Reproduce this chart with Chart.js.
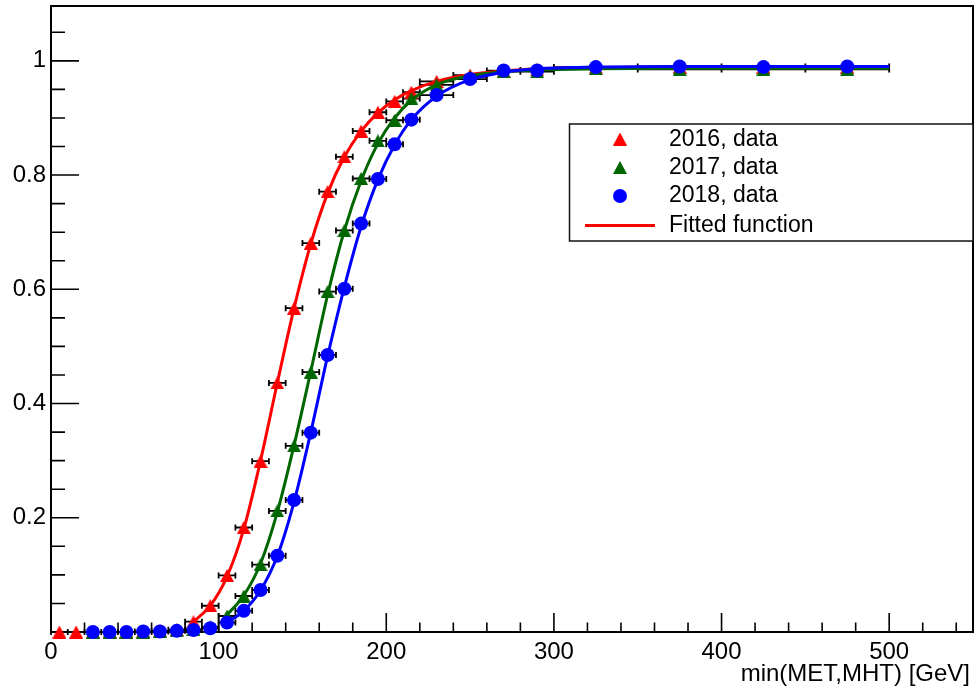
<!DOCTYPE html>
<html>
<head>
<meta charset="utf-8">
<script src="https://cdn.jsdelivr.net/npm/chart.js@4.4.1/dist/chart.umd.min.js"></script>
<style>
  html, body { margin: 0; padding: 0; background: #ffffff; }
  canvas { display: block; }
</style>
</head>
<body>
<canvas id="c" width="976" height="694"></canvas>
<script>
// Trigger efficiency vs min(MET,MHT), per data-taking year
const binCenters    = [5, 15, 25, 35, 45, 55, 65, 75, 85, 95, 105, 115, 125, 135, 145, 155, 165, 175, 185, 195, 205, 215, 230, 250, 270, 290, 325, 375, 425, 475];
const binHalfWidths = [5, 5, 5, 5, 5, 5, 5, 5, 5, 5, 5, 5, 5, 5, 5, 5, 5, 5, 5, 5, 5, 5, 10, 10, 10, 10, 25, 25, 25, 25];

const eff2016 = [0.000, 0.000, 0.000, 0.000, 0.000, 0.001, 0.002, 0.004, 0.018, 0.046, 0.099, 0.183, 0.299, 0.436, 0.567, 0.681, 0.771, 0.832, 0.877, 0.910, 0.929, 0.945, 0.964, 0.975, 0.981, 0.984, 0.988, 0.989, 0.989, 0.989];
const eff2017 = [null, null, 0.000, 0.000, 0.000, 0.000, 0.001, 0.002, 0.005, 0.009, 0.028, 0.063, 0.118, 0.212, 0.326, 0.455, 0.596, 0.703, 0.794, 0.860, 0.896, 0.934, 0.958, 0.972, 0.981, 0.981, 0.986, 0.985, 0.985, 0.985];
const eff2018 = [null, null, 0.000, 0.000, 0.000, 0.001, 0.001, 0.002, 0.0035, 0.0065, 0.0165, 0.037, 0.0735, 0.1335, 0.231, 0.349, 0.485, 0.601, 0.715, 0.793, 0.854, 0.897, 0.940, 0.968, 0.983, 0.983, 0.989, 0.990, 0.989, 0.990];

// Fitted turn-on curves (sampled values)
const fitX2016 = [85, 95, 105, 115, 125, 135, 145, 155, 165, 175, 185, 195, 205, 215, 230, 250, 270, 290, 325, 375, 425, 500];
const fit2016  = [0.018, 0.046, 0.097, 0.180, 0.300, 0.436, 0.567, 0.680, 0.768, 0.832, 0.877, 0.909, 0.932, 0.948, 0.964, 0.976, 0.982, 0.986, 0.988, 0.989, 0.989, 0.989];
const fitX2017 = [105, 115, 125, 135, 145, 155, 165, 175, 185, 195, 205, 215, 230, 250, 270, 290, 325, 375, 425, 500];
const fit2017  = [0.030, 0.064, 0.120, 0.210, 0.327, 0.457, 0.590, 0.703, 0.790, 0.855, 0.900, 0.931, 0.958, 0.974, 0.981, 0.984, 0.986, 0.987, 0.987, 0.987];
const fitX2018 = [105, 115, 125, 135, 145, 155, 165, 175, 185, 195, 205, 215, 230, 250, 270, 290, 325, 375, 425, 500];
const fit2018  = [0.017, 0.037, 0.073, 0.133, 0.228, 0.350, 0.483, 0.604, 0.710, 0.792, 0.853, 0.897, 0.938, 0.967, 0.980, 0.986, 0.989, 0.990, 0.990, 0.990];

// Axis ticks
const xTickValues = [0, 100, 200, 300, 400, 500];
const xTickLabels = ['0', '100', '200', '300', '400', '500'];
const yTickValues = [0.2, 0.4, 0.6, 0.8, 1.0];
const yTickLabels = ['0.2', '0.4', '0.6', '0.8', '1'];
const xMinorStep = 20;
const yMinorStep = 0.05;

const legendLabels = ['2016, data', '2017, data', '2018, data', 'Fitted function'];
const xTitle = 'min(MET,MHT) [GeV]';

const FONT = "'Liberation Sans', Arial, Helvetica, sans-serif";
const RED = '#ff0000', GREEN = '#006600', BLUE = '#0000ff';
const CIRCLE_R = 7;

// Filled triangle marker, centred on its bounding box
function triangleMarker(color) {
  const w = 14, h = 13;
  const c = document.createElement('canvas');
  c.width = w; c.height = h;
  const g = c.getContext('2d');
  g.fillStyle = color;
  g.beginPath();
  g.moveTo(w / 2, 0);
  g.lineTo(w, h);
  g.lineTo(0, h);
  g.closePath();
  g.fill();
  return c;
}
const triRed = triangleMarker(RED);
const triGreen = triangleMarker(GREEN);

function points(values) {
  const out = [];
  values.forEach((v, i) => { if (v !== null) out.push({ x: binCenters[i], y: v }); });
  return out;
}
function halfWidths(values) {
  const out = [];
  values.forEach((v, i) => { if (v !== null) out.push(binHalfWidths[i]); });
  return out;
}
function curve(xs, ys) { return xs.map((x, i) => ({ x, y: ys[i] })); }

function markerSet(values, color, style, radius, order) {
  return {
    data: points(values), errX: halfWidths(values),
    showLine: false, pointStyle: style, pointRadius: radius,
    backgroundColor: color, borderColor: color, borderWidth: 0,
    clip: false, order
  };
}
function fitSet(xs, ys, color, order) {
  return {
    data: curve(xs, ys), showLine: true, pointRadius: 0,
    borderColor: color, borderWidth: 3, backgroundColor: color,
    cubicInterpolationMode: 'monotone', fill: false, clip: false, order
  };
}

function labelFor(values, labels) {
  return v => {
    const k = values.findIndex(t => Math.abs(t - v) < 1e-6);
    return k >= 0 ? labels[k] : '';
  };
}

// Frame, inward tick marks and horizontal error bars
const frameAndErrors = {
  id: 'frameAndErrors',
  beforeDatasetsDraw(chart) {
    const { ctx, chartArea: a, scales: { x, y } } = chart;
    ctx.save();
    ctx.strokeStyle = '#000';
    ctx.lineWidth = 2;
    ctx.strokeRect(a.left, a.top, a.right - a.left, a.bottom - a.top);

    ctx.lineWidth = 1.6;
    ctx.beginPath();
    for (let i = 0; i * xMinorStep <= x.max; i++) {
      const v = i * xMinorStep;
      const px = x.getPixelForValue(v);
      const major = xTickValues.some(t => Math.abs(t - v) < 1e-6);
      ctx.moveTo(px, a.bottom);
      ctx.lineTo(px, a.bottom - (major ? 19 : 9.5));
    }
    for (let i = 0; i * yMinorStep <= y.max + 1e-9; i++) {
      const v = i * yMinorStep;
      const py = y.getPixelForValue(v);
      const major = Math.abs(v / 0.2 - Math.round(v / 0.2)) < 1e-6;
      ctx.moveTo(a.left, py);
      ctx.lineTo(a.left + (major ? 28 : 14), py);
    }
    ctx.stroke();

    ctx.lineWidth = 1.8;
    ctx.beginPath();
    chart.data.datasets.forEach(ds => {
      if (!ds.errX) return;
      ds.data.forEach((p, i) => {
        const x0 = x.getPixelForValue(p.x - ds.errX[i]);
        const x1 = x.getPixelForValue(p.x + ds.errX[i]);
        const py = y.getPixelForValue(p.y);
        ctx.moveTo(x0, py); ctx.lineTo(x1, py);
        ctx.moveTo(x0, py - 3); ctx.lineTo(x0, py + 3);
        ctx.moveTo(x1, py - 3); ctx.lineTo(x1, py + 3);
      });
    });
    ctx.stroke();
    ctx.restore();
  },
  afterDraw(chart) {
    const { ctx, chartArea: a } = chart;
    ctx.save();
    // axis title
    ctx.fillStyle = '#000';
    ctx.font = '24px ' + FONT;
    ctx.textAlign = 'right';
    ctx.textBaseline = 'alphabetic';
    ctx.fillText(xTitle, a.right - 3, 681);

    // legend box
    const L = 569.5, T = 124, R = a.right, B = 241;
    ctx.fillStyle = '#fff';
    ctx.fillRect(L, T, R - L, B - T);
    ctx.strokeStyle = '#111';
    ctx.lineWidth = 1.5;
    ctx.strokeRect(L, T, R - L, B - T);

    const rowsMid = [139, 167.5, 196, 225.5];
    const rowsBase = [145.5, 173.8, 202.2, 231.7];
    ctx.drawImage(triRed, 620 - triRed.width / 2, rowsMid[0] - triRed.height / 2);
    ctx.drawImage(triGreen, 620 - triGreen.width / 2, rowsMid[1] - triGreen.height / 2);
    ctx.fillStyle = BLUE;
    ctx.beginPath(); ctx.arc(620, rowsMid[2], CIRCLE_R, 0, Math.PI * 2); ctx.fill();
    ctx.strokeStyle = RED; ctx.lineWidth = 3;
    ctx.beginPath(); ctx.moveTo(585, rowsMid[3]); ctx.lineTo(655, rowsMid[3]); ctx.stroke();

    ctx.fillStyle = '#000';
    ctx.font = '23px ' + FONT;
    ctx.textAlign = 'left';
    legendLabels.forEach((t, i) => ctx.fillText(t, 669, rowsBase[i]));
    ctx.restore();
  }
};

new Chart(document.getElementById('c'), {
  type: 'scatter',
  data: {
    datasets: [
      fitSet(fitX2018, fit2018, BLUE, 1),
      markerSet(eff2018, BLUE, 'circle', CIRCLE_R, 2),
      fitSet(fitX2017, fit2017, GREEN, 3),
      markerSet(eff2017, GREEN, triGreen, 7, 4),
      fitSet(fitX2016, fit2016, RED, 5),
      markerSet(eff2016, RED, triRed, 7, 6)
    ]
  },
  options: {
    responsive: false,
    animation: false,
    devicePixelRatio: 1,
    events: [],
    layout: { autoPadding: false, padding: { top: 6, right: 3, left: 0, bottom: 0 } },
    plugins: { legend: { display: false }, tooltip: { enabled: false } },
    scales: {
      x: {
        type: 'linear', min: 0, max: 550,
        grid: { display: false, drawTicks: false }, border: { display: false },
        ticks: {
          stepSize: xMinorStep, autoSkip: false, maxRotation: 0, minRotation: 0,
          padding: 6, color: '#000', font: { family: FONT, size: 24 },
          callback: labelFor(xTickValues, xTickLabels)
        },
        afterFit(s) { s.height = 62; s.paddingLeft = 0; s.paddingRight = 0; }
      },
      y: {
        type: 'linear', min: 0, max: 1.096,
        grid: { display: false, drawTicks: false }, border: { display: false },
        ticks: {
          stepSize: yMinorStep, autoSkip: false,
          padding: 5, color: '#000', font: { family: FONT, size: 24 },
          callback: labelFor(yTickValues, yTickLabels)
        },
        afterFit(s) { s.width = 51; s.paddingTop = 0; s.paddingBottom = 0; }
      }
    }
  },
  plugins: [frameAndErrors]
});
</script>
</body>
</html>
